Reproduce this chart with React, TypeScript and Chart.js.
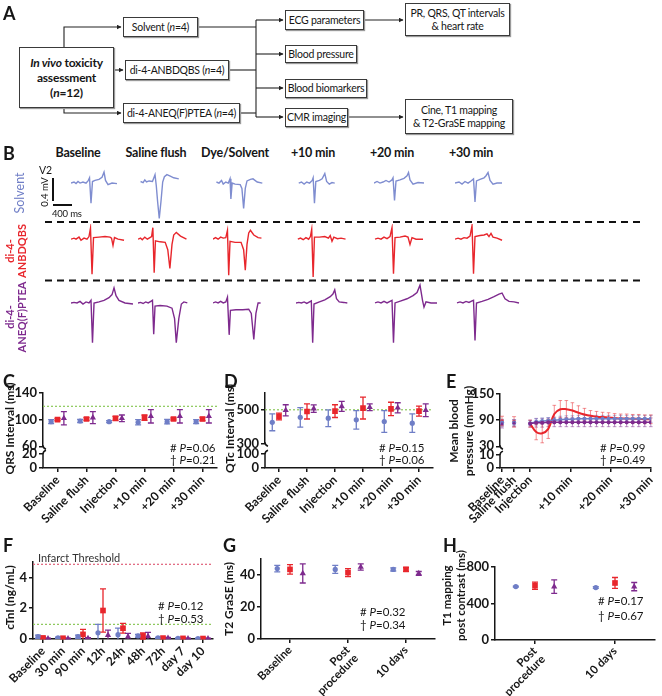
import React, { useEffect, useRef } from 'react';
import { Chart, registerables } from 'chart.js';

Chart.register(...registerables);

const FONT = 'Lato, "Open Sans", "DejaVu Sans", sans-serif';
const INK = '#161616';
const BLUE = '#6f7ec6';
const RED = '#e8262c';
const PURPLE = '#7e2a8e';
const ECG_BLUE = '#7f8dd0';
const GREEN = '#8cc85a';
const PINK = '#e0607a';

// ================= Panel B : ECG traces, [time ms, voltage mV] =================
const B_HEADERS = ['Baseline', 'Saline flush', 'Dye/Solvent', '+10 min', '+20 min', '+30 min'];

const ECG_SOLVENT: number[][][] = [
  [[0,0],[53,0.02],[88,-0.01],[123,0.03],[158,0],[210,0.02],[263,0],[298,0.04],[324,0.1],[350,-0.38],[376,0.03],[420,0.05],[490,0.07],[543,0.11],[578,0.21],[604,0.05],[648,-0.03],[718,0],[805,-0.01]],
  [[45,0.03],[89,0.01],[119,0.06],[149,0.02],[194,0.04],[253,0.03],[298,0.16],[320,-0.05],[343,-0.35],[372,-0.67],[402,-0.35],[432,0.02],[462,0.12],[506,0.16],[565,0.13],[625,0.1],[714,0.08]],
  [[60,0.02],[105,0],[149,0.05],[179,-0.02],[224,0.02],[268,0],[298,0.08],[313,-0.3],[335,0],[387,-0.02],[476,-0.03],[506,-0.1],[536,-0.48],[565,-0.1],[595,0.04],[655,0.07],[700,0.08],[774,0.02],[863,0]],
  [[48,0],[95,0.02],[142,-0.02],[189,0.02],[237,0],[284,0.05],[300,0.1],[323,-0.38],[347,0.03],[410,0.05],[457,0.08],[504,0.18],[536,0.03],[583,-0.02],[630,0.01],[678,0]],
  [[0,0],[53,0.03],[105,0],[158,0.02],[210,0.05],[263,0.02],[315,0.06],[333,0.1],[359,-0.33],[385,0.04],[455,0.06],[525,0.09],[578,0.14],[604,0.2],[630,0.06],[683,-0.02],[770,0.01],[875,0]],
  [[0,0],[70,0.02],[123,-0.02],[175,0.03],[228,0],[280,0.04],[324,0.08],[350,-0.36],[376,0.04],[438,0.07],[508,0.1],[543,0.14],[578,0.2],[613,0.05],[665,-0.02],[735,0],[823,0]],
];

const ECG_ANBDQBS: number[][][] = [
  [[0,0],[53,0.02],[88,0],[140,0.04],[175,-0.02],[228,0.02],[280,0],[315,0.05],[341,0.21],[368,-0.67],[394,0.03],[490,0.04],[595,0.05],[683,0.04],[709,0.02],[735,-0.12],[761,0.03],[823,0],[928,-0.02]],
  [[0,0],[45,0.02],[75,-0.01],[119,0.04],[164,0],[208,0.03],[238,0.05],[260,0.22],[283,-0.64],[305,-0.03],[387,-0.05],[476,-0.06],[521,-0.2],[558,-0.56],[595,-0.1],[625,0.08],[670,0.13],[744,0.06],[848,0]],
  [[0,0],[45,0.03],[89,0],[134,0.04],[179,0.02],[224,0.03],[253,0.17],[275,-0.69],[298,-0.04],[387,-0.06],[491,-0.06],[536,-0.2],[565,-0.59],[595,-0.1],[625,0.12],[655,0.17],[714,0.08],[789,0.03],[848,0.02]],
  [[32,0],[79,0.02],[126,-0.01],[174,0.03],[221,0],[252,0.05],[275,0.19],[300,-0.72],[323,0.04],[410,0.04],[504,0.05],[567,0.02],[599,0.07],[630,-0.04],[662,0.04],[725,0.01],[788,0.02],[867,0]],
  [[18,0],[70,0.02],[123,0],[175,0.04],[228,0.01],[280,0.05],[315,0.22],[341,-0.66],[368,0.03],[455,0.04],[543,0.06],[595,0.04],[630,-0.1],[665,0.03],[735,0],[858,0]],
  [[0,0],[53,0.02],[105,0],[158,0.03],[210,0.02],[263,0.06],[298,0.26],[324,-0.66],[350,0.05],[438,0.07],[508,0.08],[560,0.1],[595,0.05],[630,0.11],[665,0.04],[735,0.02],[823,-0.02]],
];

const ECG_ANEQ: number[][][] = [
  [[0,0],[53,0.01],[105,0],[158,0.03],[210,-0.02],[263,0.02],[315,0],[350,0.05],[376,-0.76],[403,0],[490,0.02],[578,0.05],[665,0.1],[718,0.16],[753,0.29],[788,0.14],[840,0.05],[945,0],[1085,-0.02]],
  [[0,0],[45,0.01],[89,-0.01],[134,0.02],[179,0],[224,0.03],[253,0.05],[275,-0.6],[298,-0.06],[387,-0.05],[506,-0.06],[595,-0.1],[640,-0.3],[670,-0.76],[714,-0.3],[759,-0.02],[803,0.02],[863,0]],
  [[0,0],[45,0.02],[89,0],[134,0.03],[179,0],[224,0.02],[253,0.11],[283,-0.61],[305,-0.14],[402,-0.13],[521,-0.13],[625,-0.12],[670,-0.2],[714,-0.7],[751,-0.2],[789,0],[833,0]],
  [[0,0],[48,0.01],[95,0],[142,0.02],[189,-0.01],[237,0.02],[268,0.04],[292,-0.76],[315,-0.02],[410,0.02],[504,0.06],[599,0.12],[646,0.17],[678,0.25],[709,0.08],[756,0.02],[835,0.01],[898,0]],
  [[18,0],[70,0.02],[123,0],[175,0.03],[228,0],[280,0.03],[315,0.05],[341,-0.76],[368,0],[473,0.04],[578,0.08],[683,0.14],[753,0.2],[805,0.34],[849,0.05],[875,-0.08],[910,0.02],[998,0],[1103,0]],
  [[35,0],[88,0.02],[140,0],[193,0.03],[245,0.01],[298,0.04],[324,0.05],[350,-0.72],[376,0],[473,0.03],[578,0.07],[683,0.12],[770,0.17],[823,0.19],[875,0.08],[945,0.03],[1033,0.02],[1120,0]],
];

// ================= Panel C : QRS interval (ms) =================
const C_LABELS = ['Baseline', 'Saline flush', 'Injection', '+10 min', '+20 min', '+30 min'];
const C_SOLVENT = [97, 98, 97, 96, 97, 97];
const C_SOLVENT_ERR = [3, 2.5, 1.5, 4, 3.5, 3];
const C_ANBDQBS = [100, 101, 102, 103, 101, 101];
const C_ANBDQBS_ERR = [1.5, 2, 3, 4, 1.5, 2.5];
const C_ANEQ = [102, 103, 102, 105, 105, 105];
const C_ANEQ_ERR = [10, 9, 5, 10, 10, 10];
const C_P = ['0.06', '0.21'];

// ================= Panel D : QTc interval (ms) =================
const D_LABELS = ['Baseline', 'Saline flush', 'Injection', '+10 min', '+20 min', '+30 min'];
const D_SOLVENT = [425, 455, 450, 440, 430, 420];
const D_SOLVENT_ERR = [50, 58, 50, 55, 65, 55];
const D_ANBDQBS = [460, 490, 492, 510, 505, 492];
const D_ANBDQBS_ERR = [20, 45, 38, 65, 40, 30];
const D_ANEQ = [497, 507, 520, 515, 512, 497];
const D_ANEQ_ERR = [33, 22, 30, 20, 30, 38];
const D_P = ['0.15', '0.06'];

// ================= Panel E : mean blood pressure (mmHg) =================
const E_TICK_POS = [-7, -4, 0, 10, 20, 30];
const E_TICK_LABELS = ['Baseline', 'Saline flush', 'Injection', '+10 min', '+20 min', '+30 min'];
const E_PRE_X = [-7, -4];
const E_PRE_SOLVENT = [84, 84];
const E_PRE_SOLVENT_ERR = [8, 7];
const E_PRE_ANBDQBS = [88, 86];
const E_PRE_ANBDQBS_ERR = [11, 12];
const E_PRE_ANEQ = [81, 83];
const E_PRE_ANEQ_ERR = [9, 8];
const E_TIME = [0, 1.5, 3, 4.5, 6, 7.5, 9, 10.5, 12, 13.5, 15, 16.5, 18, 19.5, 21, 22.5, 24, 25.5, 27, 28.5, 30];
const E_SOLVENT = [83, 86, 88, 89, 90, 91, 92, 92, 93, 93, 93, 93, 93, 93, 93, 93, 93, 93, 93, 93, 93];
const E_SOLVENT_ERR = [6, 7, 7, 7, 7, 8, 8, 8, 8, 8, 8, 8, 8, 8, 8, 8, 8, 8, 8, 8, 8];
const E_ANBDQBS = [82, 63, 60, 70, 104, 115, 115, 112, 107, 103, 100, 98, 97, 96, 95, 94, 94, 93, 93, 92, 92];
const E_ANBDQBS_ERR = [8, 18, 22, 22, 20, 20, 20, 18, 16, 14, 12, 12, 11, 11, 10, 10, 10, 10, 10, 10, 10];
const E_ANEQ = [82, 84, 84, 85, 85, 85, 85, 85, 85, 85, 85, 85, 85, 85, 85, 85, 85, 85, 85, 85, 85];
const E_ANEQ_ERR = [8, 10, 10, 10, 10, 10, 10, 10, 10, 10, 10, 10, 10, 10, 10, 10, 10, 10, 10, 10, 10];
const E_P = ['0.99', '0.49'];

// ================= Panel F : cTnI (ng/mL) =================
const F_LABELS = ['Baseline', '30 min', '90 min', '12h', '24h', '48h', '72h', 'day 7', 'day 10'];
const F_SOLVENT = [0.15, 0.08, 0.15, 0.4, 0.28, 0.2, 0.07, 0.04, 0.03];
const F_SOLVENT_ERR = [0.1, 0.04, 0.1, 0.55, 0.42, 0.1, 0.03, 0.03, 0.02];
const F_ANBDQBS = [0.07, 0.05, 0.3, 1.85, 0.7, 0.2, 0.06, 0.04, 0.03];
const F_ANBDQBS_ERR = [0.06, 0.04, 0.33, 1.4, 0.32, 0.2, 0.05, 0.03, 0.02];
const F_ANEQ = [0.03, 0.03, 0.05, 0.25, 0.15, 0.18, 0.06, 0.03, 0.03];
const F_ANEQ_ERR = [0.02, 0.02, 0.03, 0.32, 0.22, 0.25, 0.04, 0.02, 0.02];
const F_INFARCT = 4.85;
const F_NORMAL = 0.95;
const F_P = ['0.12', '0.53'];

// ================= Panel G : T2 GraSE (ms) =================
const G_LABELS: (string | string[])[] = ['Baseline', ['Post', 'procedure'], '10 days'];
const G_SOLVENT = [44, 43.5, 43.5];
const G_SOLVENT_ERR = [2, 2.5, 1];
const G_ANBDQBS = [43.5, 41.5, 43.5];
const G_ANBDQBS_ERR = [3, 2.5, 1.2];
const G_ANEQ = [41, 45, 41];
const G_ANEQ_ERR = [6, 2, 1.2];
const G_P = ['0.32', '0.34'];

// ================= Panel H : T1 mapping post contrast (ms) =================
const H_LABELS: (string | string[])[] = [['Post', 'procedure'], '10 days'];
const H_SOLVENT = [585, 575];
const H_SOLVENT_ERR = [5, 10];
const H_ANBDQBS = [595, 625];
const H_ANBDQBS_ERR = [40, 60];
const H_ANEQ = [585, 585];
const H_ANEQ_ERR = [75, 45];
const H_P = ['0.17', '0.67'];

// ================= helpers =================
const SERIES_STYLE = [
  { color: BLUE, pointStyle: 'circle', radius: 2.6, light: 'rgba(111,126,198,0.55)' },
  { color: RED, pointStyle: 'rect', radius: 4, light: 'rgba(232,38,44,0.5)' },
  { color: PURPLE, pointStyle: 'triangle', radius: 3.6, light: 'rgba(126,42,142,0.5)' },
];

const tickFont = (size: number, lineHeight?: number) => ({ family: FONT, size, weight: 'bold' as const, lineHeight: lineHeight || 1.2 });

function makeDecor(p: any) {
  return {
    id: 'decor',
    beforeDatasetsDraw(chart: any) {
      const { ctx, chartArea: ca } = chart;
      const ys = chart.scales.y;
      ctx.save();
      (p.refLines || []).forEach((r: any) => {
        const y = ys.getPixelForValue(r.value);
        ctx.strokeStyle = r.color;
        ctx.lineWidth = 1.2;
        ctx.setLineDash([2, 2]);
        ctx.beginPath();
        ctx.moveTo(ca.left, y);
        ctx.lineTo(ca.right, y);
        ctx.stroke();
      });
      ctx.setLineDash([]);
      chart.data.datasets.forEach((ds: any, di: number) => {
        if (!ds.errs) return;
        const meta = chart.getDatasetMeta(di);
        ctx.strokeStyle = ds.errColor || ds.borderColor;
        ctx.lineWidth = p.errWidth || 1.3;
        const cw = ds.cap != null ? ds.cap : (p.cap || 3);
        meta.data.forEach((el: any, i: number) => {
          const v = ds.data[i].y;
          const e = ds.errs[i];
          const yT = ys.getPixelForValue(v + e);
          const clipped = v - e < ys.min;
          const yB = ys.getPixelForValue(clipped ? ys.min : v - e);
          ctx.beginPath();
          ctx.moveTo(el.x, yT);
          ctx.lineTo(el.x, yB);
          ctx.moveTo(el.x - cw, yT);
          ctx.lineTo(el.x + cw, yT);
          if (!clipped) {
            ctx.moveTo(el.x - cw, yB);
            ctx.lineTo(el.x + cw, yB);
          }
          ctx.stroke();
        });
      });
      ctx.restore();
    },
    afterDraw(chart: any) {
      const { ctx, chartArea: ca } = chart;
      ctx.save();
      const yl = chart.scales.yLow;
      if (yl && p.low) {
        const x = ca.left;
        const yt = yl.getPixelForValue(p.low.top);
        ctx.strokeStyle = INK;
        ctx.lineWidth = 1.5;
        ctx.beginPath();
        ctx.moveTo(x, yl.bottom);
        ctx.lineTo(x, yt);
        ctx.quadraticCurveTo(x, yt - 3, x + 3, yt - 4);
        ctx.stroke();
        const yb = chart.scales.y.bottom;
        ctx.beginPath();
        ctx.moveTo(x, yb - 1);
        ctx.quadraticCurveTo(x, yb + 2, x + 3, yb + 3);
        ctx.stroke();
      }
      ctx.fillStyle = INK;
      ctx.font = `bold ${p.titleSize || 12}px ${FONT}`;
      ctx.textAlign = 'center';
      ctx.textBaseline = 'middle';
      const cy = (ca.top + ca.bottom) / 2 + (p.titleDy || 0);
      p.title.forEach((ln: string, k: number) => {
        ctx.save();
        ctx.translate(p.titleX + k * (p.titleLH || 15), cy);
        ctx.rotate(-Math.PI / 2);
        ctx.fillText(ln, 0, 0);
        ctx.restore();
      });
      ctx.textAlign = 'left';
      const syms = ['#', '\u2020'];
      p.stats.forEach((val: string, k: number) => {
        let x = p.statsX;
        const y = p.statsY + k * (p.statsLH || 12);
        const segs: [string, string][] = [[syms[k] + ' ', ''], ['P', 'italic '], ['=' + val, '']];
        segs.forEach(([t, st]) => {
          ctx.font = `${st}11.5px ${FONT}`;
          ctx.fillText(t, x, y);
          x += ctx.measureText(t).width;
        });
      });
      if (p.note) {
        ctx.font = `11px ${FONT}`;
        ctx.fillStyle = '#333';
        ctx.fillText(p.note.text, p.note.x, p.note.y);
      }
      ctx.restore();
    },
  };
}

function baseConfig(datasets: any[], p: any) {
  const grid = { display: true, drawOnChartArea: false, drawTicks: true, tickLength: 4, color: INK, lineWidth: 1.5 };
  const scales: any = {
    x: {
      type: 'linear',
      min: p.xMin,
      max: p.xMax,
      afterBuildTicks: (s: any) => { s.ticks = p.tickVals.map((v: number) => ({ value: v })); },
      afterFit: (s: any) => { s.height = p.xHeight; },
      ticks: {
        autoSkip: false, minRotation: 45, maxRotation: 45, padding: 1, color: INK,
        font: tickFont(p.xFont || 12, p.xLineHeight), callback: (_v: any, i: number) => p.tickLabels[i],
      },
      grid,
      border: { display: true, color: INK, width: 1.5 },
    },
  };
  if (p.low) {
    scales.yLow = {
      type: 'linear', position: 'left', stack: 'v', stackWeight: p.low.wLow, min: 0, max: p.low.max,
      afterBuildTicks: (s: any) => { s.ticks = [{ value: 0 }, { value: p.low.top }]; },
      afterFit: (s: any) => { s.width = p.yWidth; },
      ticks: { color: INK, font: tickFont(13), padding: 2 },
      grid,
      border: { display: false },
    };
  }
  scales.y = {
    type: 'linear', position: 'left', min: p.y.min, max: p.y.max,
    ...(p.low ? { stack: 'v', stackWeight: p.low.wTop } : {}),
    afterFit: (s: any) => { s.width = p.yWidth; },
    ticks: { stepSize: p.y.step, color: INK, font: tickFont(13), padding: 2 },
    grid,
    border: { display: true, color: INK, width: 1.5 },
  };
  return {
    type: 'scatter',
    data: { datasets },
    options: {
      responsive: false,
      animation: false,
      events: [],
      layout: { padding: { top: p.pad.top, right: p.pad.right, left: 0, bottom: 0 } },
      plugins: { legend: { display: false }, tooltip: { enabled: false } },
      scales,
    },
    plugins: [makeDecor(p)],
  };
}

function buildCat(p: any) {
  const n = p.labels.length;
  const datasets = p.series.map((s: any, k: number) => ({
    data: s.v.map((v: number, i: number) => ({ x: i + (k - 1) * p.dodge, y: v })),
    errs: s.e,
    showLine: false,
    pointStyle: SERIES_STYLE[k].pointStyle,
    pointRadius: SERIES_STYLE[k].radius,
    backgroundColor: SERIES_STYLE[k].color,
    borderColor: SERIES_STYLE[k].color,
    borderWidth: 0,
    yAxisID: 'y',
    xAxisID: 'x',
  }));
  return baseConfig(datasets, {
    ...p, xMin: -0.5, xMax: n - 0.5,
    tickVals: p.labels.map((_: any, i: number) => i), tickLabels: p.labels,
  });
}

function buildE() {
  const pre = [
    [E_PRE_ANEQ, E_PRE_ANEQ_ERR, 2],
    [E_PRE_SOLVENT, E_PRE_SOLVENT_ERR, 0],
    [E_PRE_ANBDQBS, E_PRE_ANBDQBS_ERR, 1],
  ].map(([v, e, k]: any) => ({
    data: v.map((y: number, i: number) => ({ x: E_PRE_X[i], y })),
    errs: e, cap: 2, showLine: false, errColor: SERIES_STYLE[k].light,
    pointStyle: SERIES_STYLE[k].pointStyle, pointRadius: 2.2,
    backgroundColor: SERIES_STYLE[k].color, borderColor: SERIES_STYLE[k].color, borderWidth: 0,
    yAxisID: 'y', xAxisID: 'x',
  }));
  const lines = [
    [E_ANEQ, E_ANEQ_ERR, 2],
    [E_SOLVENT, E_SOLVENT_ERR, 0],
    [E_ANBDQBS, E_ANBDQBS_ERR, 1],
  ].map(([v, e, k]: any) => ({
    data: v.map((y: number, i: number) => ({ x: E_TIME[i], y })),
    errs: e, cap: 1.8, showLine: true, tension: 0.35, errColor: SERIES_STYLE[k].light,
    pointStyle: 'circle', pointRadius: k === 1 ? 0 : 1.3,
    backgroundColor: SERIES_STYLE[k].color, borderColor: SERIES_STYLE[k].color, borderWidth: k === 1 ? 2 : 1.5,
    yAxisID: 'y', xAxisID: 'x',
  }));
  return baseConfig([...pre, ...lines], {
    xMin: -7.5, xMax: 30, tickVals: E_TICK_POS, tickLabels: E_TICK_LABELS,
    y: { min: 30, max: 150, step: 30 }, low: { top: 10, max: 16.9, wTop: 53, wLow: 22 },
    pad: { top: 16, right: 9 }, yWidth: 58, xHeight: 77, errWidth: 1,
    title: ['Mean blood', 'pressure (mmHg)'], titleX: 12, titleLH: 15, titleDy: 0,
    stats: E_P, statsX: 158, statsY: 70,
  });
}

function ChartBox({ x, y, w, h, make }: { x: number; y: number; w: number; h: number; make: () => any }) {
  const ref = useRef<HTMLCanvasElement | null>(null);
  useEffect(() => {
    const chart = new Chart(ref.current as HTMLCanvasElement, make());
    return () => chart.destroy();
  }, []);
  return (
    <div style={{ position: 'absolute', left: x, top: y, width: w, height: h }}>
      <canvas ref={ref} width={w} height={h} style={{ width: w, height: h, display: 'block' }} />
    </div>
  );
}

function ecgConfig(trace: number[][], color: string, min: number, max: number) {
  return {
    type: 'scatter',
    data: {
      datasets: [{
        data: trace.map(([t, v]) => ({ x: t, y: v })),
        showLine: true, borderColor: color, borderWidth: 1.4, pointRadius: 0, tension: 0, clip: false,
      }],
    },
    options: {
      responsive: false, animation: false, events: [],
      layout: { padding: 0 },
      plugins: { legend: { display: false }, tooltip: { enabled: false } },
      scales: {
        x: { type: 'linear', display: false, min: 0, max: 1400 },
        y: { type: 'linear', display: false, min, max },
      },
    },
  };
}

// ================= Panel A =================
function Box({ l, t, w, h, children, bold }: any) {
  return (
    <div style={{
      position: 'absolute', left: l, top: t, width: w, height: h, boxSizing: 'border-box',
      border: '1px solid #3a3a3a', boxShadow: '1px 1px 1px #9a9a9a', background: '#fff',
      display: 'flex', alignItems: 'center', justifyContent: 'center', textAlign: 'center',
      fontSize: bold ? 12 : 10.5, fontWeight: bold ? 700 : 400, lineHeight: bold ? '15px' : '13px', color: INK,
      letterSpacing: bold ? '-0.2px' : '-0.25px', whiteSpace: 'nowrap',
    }}>
      <div>{children}</div>
    </div>
  );
}

function PanelA() {
  const arrows = [
    'M64 47 V27 H121', 'M114 70 H123', 'M64 108 V113 H121',
    'M256 20 H283', 'M256 54 H283', 'M256 88 H283', 'M256 117 H283',
    'M364 20 H403', 'M348 117 H403',
  ];
  const plain = ['M198 27 H256', 'M229 70 H256', 'M240 113 H256', 'M256 20 V117'];
  return (
    <>
      <svg width={662} height={140} style={{ position: 'absolute', left: 0, top: 0 }}>
        <defs>
          <marker id="ah" markerWidth="5" markerHeight="5" refX="4.5" refY="2.5" orient="auto" markerUnits="userSpaceOnUse">
            <path d="M0,0 L5,2.5 L0,5 z" fill="#222" />
          </marker>
        </defs>
        {plain.map((d, i) => <path key={'p' + i} d={d} stroke="#222" strokeWidth={1.1} fill="none" />)}
        {arrows.map((d, i) => <path key={'a' + i} d={d} stroke="#222" strokeWidth={1.1} fill="none" markerEnd="url(#ah)" />)}
      </svg>
      <Box l={19} t={47} w={95} h={61} bold><i>In vivo</i> toxicity<br />assessment<br />(<i>n</i>=12)</Box>
      <Box l={123} t={17} w={75} h={20}>Solvent (<i>n</i>=4)</Box>
      <Box l={125} t={60} w={104} h={20}>di-4-ANBDQBS (<i>n</i>=4)</Box>
      <Box l={123} t={103} w={117} h={20}>di-4-ANEQ(F)PTEA (<i>n</i>=4)</Box>
      <Box l={285} t={10} w={79} h={20}>ECG parameters</Box>
      <Box l={285} t={45} w={72} h={18}>Blood pressure</Box>
      <Box l={285} t={79} w={82} h={19}>Blood biomarkers</Box>
      <Box l={285} t={108} w={63} h={19}>CMR imaging</Box>
      <Box l={405} t={3} w={105} h={33}>PR, QRS, QT intervals<br />&amp; heart rate</Box>
      <Box l={405} t={99} w={108} h={35}>Cine, T1 mapping<br />&amp; T2-GraSE mapping</Box>
    </>
  );
}

// ================= Panel B =================
const B_COL_LEFT = [71, 138, 213, 296, 374, 455];
const B_HEAD_X = [78, 156, 235, 313, 392, 471];
const B_ROWS = [
  { traces: ECG_SOLVENT, color: ECG_BLUE, top: 162, h: 59, min: -0.72, max: 0.4 },
  { traces: ECG_ANBDQBS, color: RED, top: 224, h: 55, min: -0.76, max: 0.29 },
  { traces: ECG_ANEQ, color: PURPLE, top: 281, h: 69, min: -0.9, max: 0.42 },
];

function RotLabel({ cx, cy, color, size, weight, lines }: any) {
  return (
    <div style={{
      position: 'absolute', left: cx, top: cy, transform: 'translate(-50%,-50%) rotate(-90deg)',
      display: 'flex', flexDirection: 'column', alignItems: 'center',
      whiteSpace: 'nowrap', color, fontSize: size, fontWeight: weight, lineHeight: `${size + 1}px`,
    }}>{lines.map((l: string) => <span key={l}>{l}</span>)}</div>
  );
}

function PanelB() {
  return (
    <>
      {B_HEADERS.map((t, i) => (
        <div key={t} style={{ position: 'absolute', left: B_HEAD_X[i] - 50, width: 100, top: 146, textAlign: 'center', fontWeight: 700, fontSize: 12.5, lineHeight: '13px', letterSpacing: '-0.2px' }}>{t}</div>
      ))}
      {B_ROWS.map((r, ri) => r.traces.map((tr, ci) => (
        <ChartBox key={ri + '-' + ci} x={B_COL_LEFT[ci]} y={r.top} w={80} h={r.h} make={() => ecgConfig(tr, r.color, r.min, r.max)} />
      )))}
      <svg width={662} height={360} style={{ position: 'absolute', left: 0, top: 0 }}>
        <line x1={45} y1={222} x2={640} y2={222} stroke="#111" strokeWidth={2} strokeDasharray="7 5" />
        <line x1={45} y1={280.5} x2={640} y2={280.5} stroke="#111" strokeWidth={2} strokeDasharray="7 5" />
        <line x1={53} y1={178} x2={53} y2={201} stroke="#111" strokeWidth={2} />
        <line x1={53} y1={205} x2={72} y2={205} stroke="#111" strokeWidth={2} />
      </svg>
      <div style={{ position: 'absolute', left: 39, top: 164, fontSize: 10.5 }}>V2</div>
      <RotLabel cx={45} cy={192} color={INK} size={9.5} weight={400} lines={['0.4 mV']} />
      <div style={{ position: 'absolute', left: 52, top: 208, fontSize: 9.5, letterSpacing: '-0.2px' }}>400 ms</div>
      <RotLabel cx={20} cy={193} color={BLUE} size={12.5} weight={400} lines={['Solvent']} />
      <RotLabel cx={16} cy={251} color={RED} size={11} weight={700} lines={['di-4-', 'ANBDQBS']} />
      <RotLabel cx={16} cy={317} color={PURPLE} size={11} weight={700} lines={['di-4-', 'ANEQ(F)PTEA']} />
    </>
  );
}

// ================= panel definitions =================
const C_PANEL = {
  labels: C_LABELS, dodge: 0.22,
  series: [{ v: C_SOLVENT, e: C_SOLVENT_ERR }, { v: C_ANBDQBS, e: C_ANBDQBS_ERR }, { v: C_ANEQ, e: C_ANEQ_ERR }],
  y: { min: 60, max: 140, step: 20 }, low: { top: 20, max: 31.4, wTop: 54, wLow: 22 },
  pad: { top: 15, right: 5 }, yWidth: 43, xHeight: 77, refLines: [{ value: 120, color: GREEN }],
  title: ['QRS Interval (ms)'], titleX: 10, titleDy: -2, stats: C_P, statsX: 170, statsY: 70,
};
const D_PANEL = {
  labels: D_LABELS, dodge: 0.24,
  series: [{ v: D_SOLVENT, e: D_SOLVENT_ERR }, { v: D_ANBDQBS, e: D_ANBDQBS_ERR }, { v: D_ANEQ, e: D_ANEQ_ERR }],
  y: { min: 300, max: 600, step: 100 }, low: { top: 100, max: 178.6, wTop: 51, wLow: 25 },
  pad: { top: 15, right: 9 }, yWidth: 43, xHeight: 77, refLines: [{ value: 500, color: GREEN }],
  title: ['QTc Interval (ms)'], titleX: 8, titleDy: -2, stats: D_P, statsX: 157, statsY: 70,
};
const F_PANEL = {
  labels: F_LABELS, dodge: 0.25,
  series: [{ v: F_SOLVENT, e: F_SOLVENT_ERR }, { v: F_ANBDQBS, e: F_ANBDQBS_ERR }, { v: F_ANEQ, e: F_ANEQ_ERR }],
  y: { min: 0, max: 5, step: 1 }, pad: { top: 14, right: 9 }, yWidth: 33, xHeight: 57,
  refLines: [{ value: F_INFARCT, color: PINK }, { value: F_NORMAL, color: GREEN }],
  title: ['cTnI (ng/mL)'], titleX: 10, titleDy: -3, stats: F_P, statsX: 158, statsY: 58, statsLH: 13,
  note: { text: 'Infarct Threshold', x: 38, y: 10 },
};
const G_PANEL = {
  labels: G_LABELS, dodge: 0.22, xFont: 11.5, xLineHeight: 1.0,
  series: [{ v: G_SOLVENT, e: G_SOLVENT_ERR }, { v: G_ANBDQBS, e: G_ANBDQBS_ERR }, { v: G_ANEQ, e: G_ANEQ_ERR }],
  y: { min: 0, max: 50, step: 10 }, pad: { top: 11, right: 7 }, yWidth: 39, xHeight: 57,
  title: ['T2 GraSE (ms)'], titleX: 7, titleDy: 0, stats: G_P, statsX: 138, statsY: 64, statsLH: 13,
};
const H_PANEL = {
  labels: H_LABELS, dodge: 0.24, xFont: 11.5, xLineHeight: 1.0,
  series: [{ v: H_SOLVENT, e: H_SOLVENT_ERR }, { v: H_ANBDQBS, e: H_ANBDQBS_ERR }, { v: H_ANEQ, e: H_ANEQ_ERR }],
  y: { min: 0, max: 800, step: 200 }, pad: { top: 19, right: 7 }, yWidth: 53, xHeight: 56,
  title: ['T1 mapping', 'post contrast (ms)'], titleX: 5, titleLH: 14, titleDy: -8, titleSize: 11.5,
  stats: H_P, statsX: 156, statsY: 53, statsLH: 15,
};

function Letter({ x, y, t }: { x: number; y: number; t: string }) {
  return <div style={{ position: 'absolute', left: x, top: y, fontWeight: 700, fontSize: 18, lineHeight: '18px' }}>{t}</div>;
}

export default function App() {
  return (
    <div style={{ position: 'absolute', left: 0, top: 0, width: 662, height: 696, background: '#fff', overflow: 'hidden', fontFamily: FONT, color: INK }}>
      <PanelA />
      <PanelB />
      <ChartBox x={0} y={378} w={222} h={167} make={() => buildCat(C_PANEL)} />
      <ChartBox x={222} y={378} w={220} h={167} make={() => buildCat(D_PANEL)} />
      <ChartBox x={442} y={378} w={220} h={167} make={() => buildE()} />
      <ChartBox x={0} y={548} w={222} h={148} make={() => buildCat(F_PANEL)} />
      <ChartBox x={222} y={548} w={220} h={148} make={() => buildCat(G_PANEL)} />
      <ChartBox x={442} y={548} w={220} h={148} make={() => buildCat(H_PANEL)} />
      <Letter x={3} y={4} t="A" />
      <Letter x={3} y={144} t="B" />
      <Letter x={3} y={372} t="C" />
      <Letter x={224} y={372} t="D" />
      <Letter x={446} y={372} t="E" />
      <Letter x={3} y={536} t="F" />
      <Letter x={223} y={536} t="G" />
      <Letter x={443} y={536} t="H" />
    </div>
  );
}
